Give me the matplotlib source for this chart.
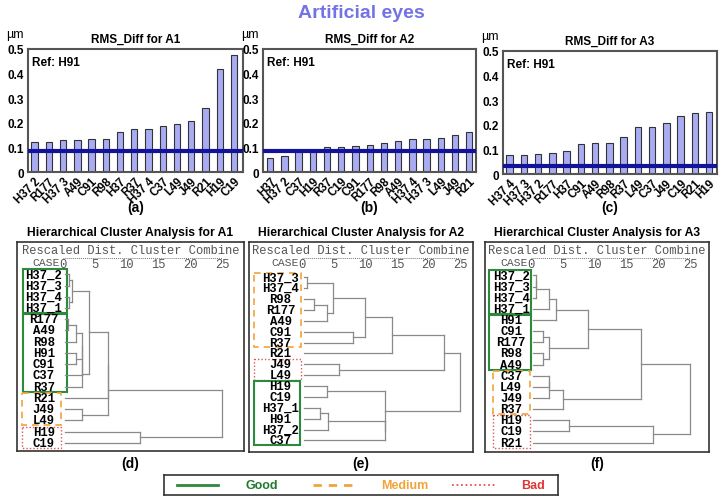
import matplotlib.pyplot as plt
from matplotlib.patches import Rectangle

plt.rcParams.update({"font.family": "Liberation Sans", "font.weight": "bold"})

W, H = 723, 502

# ---- RMS difference bar charts ----
A1_LABELS = ["H37 2", "R177", "H37 3", "A49", "C91", "R98", "H37", "R37",
             "H37 4", "C37", "L49", "J49", "R21", "H19", "C19"]
A1_VALUES = [0.120, 0.120, 0.131, 0.131, 0.134, 0.134, 0.164, 0.173,
             0.173, 0.185, 0.196, 0.206, 0.261, 0.418, 0.475]
A1_REF = 0.087

A2_LABELS = ["H37", "H37 2", "C37", "H19", "R37", "C19", "C91", "R177",
             "R98", "A49", "H37 4", "H37 3", "L49", "J49", "R21"]
A2_VALUES = [0.055, 0.066, 0.088, 0.090, 0.100, 0.100, 0.107, 0.110,
             0.117, 0.125, 0.135, 0.135, 0.137, 0.150, 0.163]
A2_REF = 0.087

A3_LABELS = ["H37 4", "H37 3", "H37 2", "R177", "H37", "C91", "A49", "R98",
             "R37", "L49", "C37", "J49", "C19", "R21", "H19"]
A3_VALUES = [0.076, 0.076, 0.080, 0.085, 0.094, 0.120, 0.124, 0.127,
             0.151, 0.193, 0.193, 0.209, 0.234, 0.248, 0.251]
A3_REF = 0.032

# ---- dendrograms: leaves top to bottom, merges (child, child, distance) ----
D_LEAVES = ["H37_2", "H37_3", "H37_4", "H37_1", "R177", "A49", "R98", "H91",
            "C91", "C37", "R37", "R21", "J49", "L49", "H19", "C19"]
D_MERGES = [(0, 1, 1.0), (2, 3, 1.0), (16, 17, 1.4), (4, 5, 0.8), (19, 6, 2.1),
            (7, 8, 2.1), (20, 21, 3.0), (22, 9, 3.0), (23, 10, 3.0), (18, 24, 4.1),
            (12, 13, 3.0), (25, 11, 7.1), (27, 26, 7.1), (14, 15, 12.1), (28, 29, 25.0)]

E_LEAVES = ["H37_3", "H37_4", "R98", "R177", "A49", "C91", "R37", "R21",
            "J49", "L49", "H19", "C19", "H37_1", "H91", "H37_2", "C37"]
E_MERGES = [(0, 1, 0.85), (2, 3, 1.85), (17, 4, 3.9), (16, 18, 4.9), (5, 6, 8.0),
            (19, 20, 10.0), (21, 7, 14.2), (8, 9, 5.9), (22, 23, 22.4), (10, 11, 3.9),
            (12, 13, 2.8), (26, 14, 4.1), (27, 15, 13.05), (25, 28, 13.05), (24, 29, 25.0)]

F_LEAVES = ["H37_2", "H37_3", "H37_4", "H37_1", "H91", "C91", "R177", "R98",
            "A49", "C37", "L49", "J49", "R37", "H19", "C19", "R21"]
F_MERGES = [(0, 1, 0.8), (16, 2, 0.8), (17, 3, 2.9), (18, 4, 4.0), (5, 6, 1.9),
            (7, 8, 1.9), (20, 21, 2.9), (19, 22, 9.0), (9, 10, 2.9), (24, 11, 2.9),
            (25, 12, 5.0), (23, 26, 17.2), (13, 14, 6.0), (28, 15, 19.2), (27, 29, 25.0)]

# quality groups: (first row, last row, kind)
D_GROUPS = [(0, 3, "good"), (4, 10, "good"), (11, 13, "medium"), (14, 15, "bad")]
E_GROUPS = [(0, 6, "medium"), (8, 9, "bad"), (10, 15, "good")]
F_GROUPS = [(0, 3, "good"), (4, 8, "good"), (9, 12, "medium"), (13, 15, "bad")]

SCALE_TICKS = [0, 5, 10, 15, 20, 25]

GREEN = "#2b8a3b"
ORANGE = "#f2a43a"
RED = "#e35555"
BAR = "#a9acf2"
NAVY = "#12129a"
TREE = "#8a8a8a"
MONO = "Liberation Mono"

GROUP_STYLE = {
    "good": dict(edgecolor=GREEN, linestyle="-", linewidth=1.5),
    "medium": dict(edgecolor=ORANGE, linestyle=(0, (4, 3)), linewidth=1.2),
    "bad": dict(edgecolor=RED, linestyle=(0, (1, 1.5)), linewidth=1.0),
}


def px_rect(left, top, right, bottom):
    return [left / W, 1 - bottom / H, (right - left) / W, (bottom - top) / H]


def bar_panel(fig, rect, labels, values, ref, title, tag, xlim):
    ax = fig.add_axes(px_rect(*rect))
    x = range(len(values))
    ax.bar(x, values, width=0.45, color=BAR, edgecolor="#333333", linewidth=0.8, zorder=2)
    ax.axhline(ref, color=NAVY, lw=3, zorder=3)
    ax.set_xlim(*xlim)
    ax.set_ylim(0, 0.5)
    ax.set_yticks([0, 0.1, 0.2, 0.3, 0.4, 0.5])
    ax.set_yticklabels(["0", "0.1", "0.2", "0.3", "0.4", "0.5"])
    ax.set_xticks(list(x))
    ax.set_xticklabels(labels, rotation=45, ha="right", rotation_mode="anchor")
    ax.tick_params(axis="both", length=0, labelsize=8.5, pad=3)
    ax.tick_params(axis="x", labelsize=8.3, pad=2)
    for s in ax.spines.values():
        s.set_color("#555555")
        s.set_linewidth(1.5)
    ax.set_title(title, fontsize=8.5, fontweight="bold", pad=5)
    ax.text(0.02, 0.94, "Ref: H91", transform=ax.transAxes, fontsize=8.5,
            fontweight="bold", va="top")
    ax.text(-0.02, 1.07, "µm", transform=ax.transAxes, fontsize=9,
            fontweight="normal", ha="right", va="bottom")
    fig.text((rect[0] + rect[2]) / 2 / W, 1 - 208 / H, tag, ha="center", va="center",
             fontsize=10, fontweight="bold")
    return ax


def tree_panel(fig, rect, leaves, merges, groups, xlim, ylim, label_x, box_x, title, tag):
    ax = fig.add_axes(px_rect(*rect))
    ax.set_xlim(*xlim)
    ax.set_ylim(*ylim)
    ax.set_xticks([])
    ax.set_yticks([])
    for s in ax.spines.values():
        s.set_color("#333333")
        s.set_linewidth(1.2)

    n = len(leaves)
    ypos = {i: i for i in range(n)}
    xpos = {i: 0.3 for i in range(n)}
    for k, (a, b, d) in enumerate(merges):
        for c in (a, b):
            ax.plot([xpos[c], d], [ypos[c], ypos[c]], color=TREE, lw=0.9)
        ax.plot([d, d], [ypos[a], ypos[b]], color=TREE, lw=0.9)
        ypos[n + k] = (ypos[a] + ypos[b]) / 2
        xpos[n + k] = d

    for i, name in enumerate(leaves):
        ax.text(label_x, i, name, family=MONO, fontweight="bold", fontsize=8.8,
                ha="center", va="center")

    for first, last, kind in groups:
        x0, x1 = box_x[kind]
        ax.add_patch(Rectangle((x0, first - 0.45), x1 - x0, last - first + 0.9,
                               fill=False, **GROUP_STYLE[kind]))

    xt = ax.get_xaxis_transform()
    ax.text(0.5, 0.962, "Rescaled Dist. Cluster Combine", transform=ax.transAxes,
            family=MONO, fontweight="normal", fontsize=8.7, color="#555555",
            ha="center", va="center")
    ax.plot([0, 25], [0.925, 0.925], transform=xt, color="#777777", lw=0.7, ls=(0, (1, 1)))
    for t in SCALE_TICKS:
        ax.text(t, 0.893, str(t), transform=xt, family=MONO, fontweight="normal",
                fontsize=8.7, color="#555555", ha="center", va="center")
    ax.text(-0.5, 0.905, "CASE", transform=xt, family=MONO, fontweight="normal",
            fontsize=8.2, color="#555555", ha="right", va="center")

    cx = (rect[0] + rect[2]) / 2 / W
    fig.text(cx, 1 - 233 / H, title, ha="center", va="center", fontsize=8.7,
             fontweight="bold")
    fig.text(cx, 1 - 464 / H, tag, ha="center", va="center", fontsize=10,
             fontweight="bold")
    return ax


fig = plt.figure(figsize=(W / 100, H / 100), dpi=100)
fig.text(0.5, 1 - 14 / H, "Artificial eyes", ha="center", va="center",
         fontsize=14, fontweight="bold", color="#7373e6")

bar_panel(fig, (28, 50, 243, 173), A1_LABELS, A1_VALUES, A1_REF,
          "RMS_Diff for A1", "(a)", (-0.46, 14.63))
bar_panel(fig, (263, 50, 476, 173), A2_LABELS, A2_VALUES, A2_REF,
          "RMS_Diff for A2", "(b)", (-0.51, 14.48))
bar_panel(fig, (503, 52, 717, 175), A3_LABELS, A3_VALUES, A3_REF,
          "RMS_Diff for A3", "(c)", (-0.47, 14.55))

tree_panel(fig, (17, 243, 244, 452), D_LEAVES, D_MERGES, D_GROUPS,
           (-7.23, 28.46), (15.73, -2.88), -3.0,
           {"good": (-6.3, 0.6), "medium": (-6.4, -0.3), "bad": (-6.4, -0.3)},
           "Hierarchical Cluster Analysis for A1", "(d)")
tree_panel(fig, (249, 243, 473, 453), E_LEAVES, E_MERGES, E_GROUPS,
           (-8.36, 26.99), (16.07, -3.26), -3.36,
           {"good": (-7.6, -0.36), "medium": (-7.5, -0.1), "bad": (-7.5, -0.2)},
           "Hierarchical Cluster Analysis for A2", "(e)")
tree_panel(fig, (485, 243, 709, 453), F_LEAVES, F_MERGES, F_GROUPS,
           (-7.2, 27.9), (15.85, -3.0), -3.1,
           {"good": (-6.5, 0.0), "medium": (-6.0, -0.15), "bad": (-6.0, -0.15)},
           "Hierarchical Cluster Analysis for A3", "(f)")

# ---- legend strip ----
leg = fig.add_axes(px_rect(164, 476, 558, 496))
leg.set_xlim(0, 1)
leg.set_ylim(0, 1)
leg.set_xticks([])
leg.set_yticks([])
for s in leg.spines.values():
    s.set_color("#333333")
    s.set_linewidth(1.2)
leg.plot([0.033, 0.137], [0.5, 0.5], color=GREEN, lw=2)
leg.plot([0.378, 0.482], [0.5, 0.5], color=ORANGE, lw=2, ls=(0, (3, 2.5)))
leg.plot([0.731, 0.840], [0.5, 0.5], color=RED, lw=1.3, ls=(0, (1, 1.5)))
leg.text(0.249, 0.5, "Good", color="#1f7a2e", fontsize=9, ha="center", va="center")
leg.text(0.612, 0.5, "Medium", color=ORANGE, fontsize=9, ha="center", va="center")
leg.text(0.937, 0.5, "Bad", color="#e03535", fontsize=9, ha="center", va="center")

fig.savefig("out.png", dpi=100)
